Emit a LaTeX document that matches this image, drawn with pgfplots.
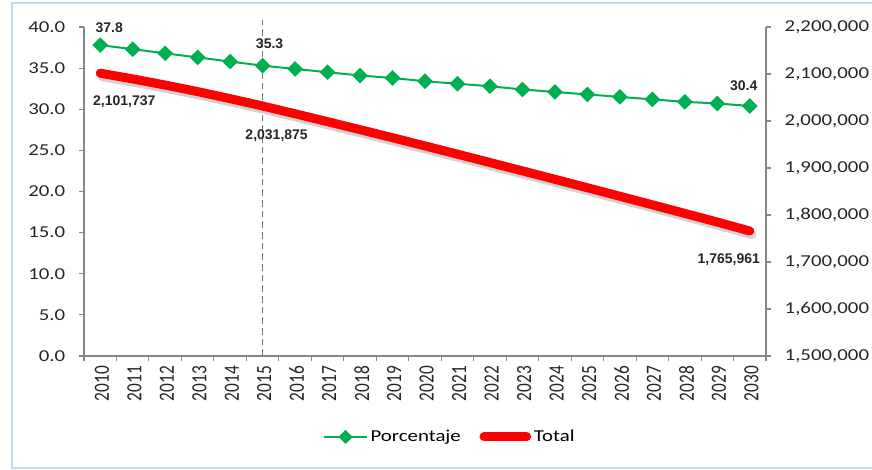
\documentclass[border=0pt]{standalone}
\usepackage{fontspec}
\setmainfont[FakeStretch=1.25]{Carlito}
\newfontfamily\plainfont{Carlito}
\newfontfamily\lblfont{Liberation Sans}
\usepackage{pgfplots}
\usepackage{pgfplotstable}
\pgfplotsset{compat=1.18}

\definecolor{pgreen}{RGB}{0,176,80}
\definecolor{axgray}{RGB}{134,134,134}
\definecolor{dashgray}{RGB}{118,118,118}
\definecolor{framebl}{RGB}{198,217,241}

% i = year - 2010
\pgfplotstableread{
i  pct   total
0  37.8  2101737
1  37.3  2089500
2  36.8  2076500
3  36.3  2062500
4  35.8  2047500
5  35.3  2031875
6  34.9  2015375
7  34.5  1998575
8  34.1  1981575
9  33.8  1964375
10 33.4  1946975
11 33.1  1929375
12 32.8  1911675
13 32.4  1893875
14 32.1  1875975
15 31.8  1857975
16 31.5  1839875
17 31.2  1821675
18 30.9  1803375
19 30.7  1784975
20 30.4  1765961
}\datatable

\pgfplotsset{
  common/.style={
    at={(63pt,85.5pt)}, anchor=south west,
    scale only axis, width=511.5pt, height=246.75pt,
    xmin=-0.5, xmax=20.5,
    axis line style={axgray, line width=0.8pt},
    major tick style={axgray, line width=0.8pt},
    tick align=outside, major tick length=4pt,
    /pgf/number format/assume math mode=true,
    ticklabel style={font=\fontsize{12.5}{12.5}\selectfont, text=black!85},
    clip=false,
  },
}
\tikzset{lbl/.style={font=\lblfont\bfseries\fontsize{10.5}{10.5}\selectfont, text=black!85}}

\begin{document}
\begin{tikzpicture}
\useasboundingbox (0,0) rectangle (654pt,352.5pt);
\draw[framebl, line width=1.5pt] (9pt,1.5pt) rectangle (662pt,350pt);

\begin{axis}[common,
  ymin=0, ymax=40,
  axis x line*=bottom, axis y line*=left,
  ytick={0,5,...,40},
  yticklabel style={/pgf/number format/.cd, fixed, fixed zerofill, precision=1, /tikz/.cd, xshift=-6.5pt},
  xtick={-0.5,0.5,...,20.5},
  x tick label as interval,
  xticklabels={2010,2011,2012,2013,2014,2015,2016,2017,2018,2019,2020,2021,2022,2023,2024,2025,2026,2027,2028,2029,2030,},
  xticklabel style={font=\plainfont\fontsize{13}{13}\selectfont, rotate=90, anchor=east, yscale=1.25, yshift=-1pt},
  ]
  \addplot[dashgray, line width=1.2pt, dash pattern=on 5pt off 3pt] coordinates {(5,0) (5,40.9)};
  \addplot[pgreen, line width=1.5pt, mark=diamond*, mark size=4.8pt,
    mark options={fill=pgreen, draw=pgreen, xscale=1.35, solid}]
    table[x=i, y=pct] {\datatable};
  \node[lbl] at (axis cs:0,37.8) [xshift=6.75pt, yshift=12.75pt] {37.8};
  \node[lbl] at (axis cs:5,35.3) [xshift=5.25pt, yshift=16.5pt] {35.3};
  \node[lbl] at (axis cs:20,30.4) [xshift=-4.5pt, yshift=15pt] {30.4};
\end{axis}

\begin{axis}[common,
  ymin=1500000, ymax=2200000,
  axis y line*=right, axis x line=none,
  ytick={1500000,1600000,...,2200000},
  scaled y ticks=false,
  yticklabel style={/pgf/number format/.cd, fixed, 1000 sep={,}, /tikz/.cd, xshift=6.5pt},
  legend style={at={(0.537,-0.246)}, anchor=center, draw=none, fill=none,
    legend columns=2, font=\fontsize{12.5}{12.5}\selectfont,
    /tikz/every even column/.append style={column sep=12pt}},
  legend image code/.code={\draw[mark repeat=2, mark phase=2] plot coordinates {(0pt,0pt) (16pt,0pt) (32pt,0pt)};},
  ]
  \addlegendimage{pgreen, line width=1.5pt, mark=diamond*, mark size=4.2pt,
    mark options={fill=pgreen, draw=pgreen, xscale=1.35}}
  \addlegendentry{Porcentaje}
  \addplot[black, opacity=0.18, line width=7pt, line cap=round, line join=round,
    xshift=1.5pt, yshift=-2.5pt, forget plot]
    table[x=i, y=total] {\datatable};
  \addplot[red, line width=6.75pt, line cap=round, line join=round]
    table[x=i, y=total] {\datatable};
  \addlegendentry{Total}
  \node[lbl] at (axis cs:0,2101737) [xshift=18pt, yshift=-21.75pt] {2,101,737};
  \node[lbl] at (axis cs:5,2031875) [xshift=10.5pt, yshift=-22.5pt] {2,031,875};
  \node[lbl] at (axis cs:20,1765961) [xshift=-15.75pt, yshift=-21.75pt] {1,765,961};
\end{axis}
\end{tikzpicture}
\end{document}
